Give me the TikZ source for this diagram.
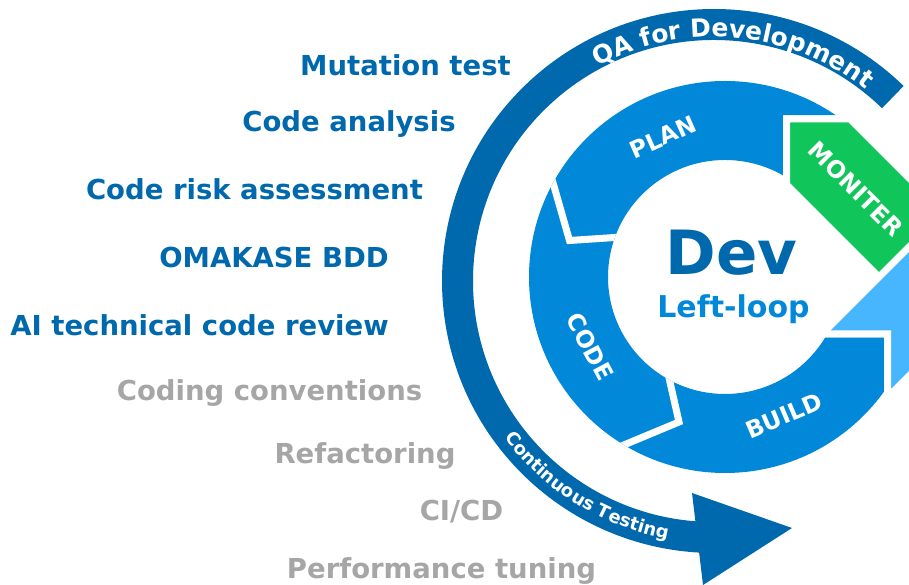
\documentclass[tikz,border=0pt]{standalone}
\usepackage{fontspec}
\setmainfont{DejaVu Sans}
\usetikzlibrary{calc,decorations.text}
\definecolor{qablue}{RGB}{0,104,172}
\definecolor{ringblue}{RGB}{2,136,216}
\definecolor{monigreen}{RGB}{16,198,90}
\definecolor{skyblue}{RGB}{72,182,255}
\definecolor{greytxt}{RGB}{166,166,166}
\begin{document}
\begin{tikzpicture}[x=1pt,y=1pt,
  lefttxt/.style={font=\bfseries\fontsize{27.5}{30}\selectfont, anchor=base, inner sep=0pt},
  bluetxt/.style={lefttxt, text=qablue},
  greytext/.style={lefttxt, text=greytxt},
  ringtxt/.style={font=\bfseries\fontsize{23.5}{26}\selectfont, text=white, inner sep=0pt},
  gapline/.style={white, line width=7pt, line join=miter},
]
\useasboundingbox (0,0) rectangle (909,585);
\clip (0,0) rectangle (909,585);
\coordinate (C) at (725,308);
\coordinate (D) at (714,304);

% ---- inner ring (PLAN / CODE / BUILD)
\begin{scope}[even odd rule]
  \clip (C) circle[radius=196] (C) circle[radius=117];
  \begin{scope}[nonzero rule]
    \clip (887.5,0) -- (887.5,251) -- (800,251) -- (786.5,380) -- (786.5,466)
       -- (1000,466) -- (1000,600) -- (400,600) -- (400,0) -- cycle;
    \fill[ringblue] (C) circle[radius=200];
  \end{scope}
  \draw[gapline] (887.5,0) -- (887.5,251) -- (800,251) -- (786.5,380) -- (786.5,466) -- (1000,466);
  \coordinate (J1o) at (552.5,404);
  \coordinate (J1t) at (569.5,344.5);
  \coordinate (J1i) at (614.5,347.5);
  \draw[gapline] ($(J1t)!1.5!(J1o)$) -- (J1t) -- ($(J1t)!2!(J1i)$);
  \coordinate (J2o) at (625,140.5);
  \coordinate (J2t) at (679,163);
  \coordinate (J2i) at (669.5,205);
  \draw[gapline] ($(J2t)!1.5!(J2o)$) -- (J2t) -- ($(J2t)!2!(J2i)$);
\end{scope}

% ---- outer band: QA for Development / Continuous Testing
\fill[qablue] ($(D)+(45.8:272)$) arc[start angle=45.8, end angle=267, radius=272]
   -- ($(D)+(267:241)$) arc[start angle=267, end angle=45.8, radius=241] -- cycle;
\fill[qablue] (692,92) -- (792,57) -- (703,0) -- cycle;

\path[decorate, decoration={text along path, text align=center,
  text={|\bfseries\fontsize{25}{26}\selectfont\color{white}|QA for Development}}]
  ($(D)+(125.05:244)$) arc[start angle=125.05, end angle=45.05, radius=244];
\path[decorate, decoration={text along path, text align=center,
  text={|\bfseries\fontsize{18}{20}\selectfont\color{white}|Continuous Testing}}]
  ($(D)+(208.25:262)$) arc[start angle=208.25, end angle=268.25, radius=262];

% ---- crossing bands
\filldraw[fill=monigreen, draw=white, line width=7pt, line join=miter]
  (786.5,466) -- (850,466) -- (1050,266) -- (986.5,200.5) -- (786.5,400.5) -- cycle;
\filldraw[fill=skyblue, draw=white, line width=7pt, line join=miter]
  (887.5,251) -- (822,251) -- (1022,451) -- (1087.5,387.5) -- (887.5,187.5) -- cycle;

% ---- ring labels
\node[ringtxt, rotate=24] (plan) at (663,448) {PLAN};
\node[ringtxt, rotate=-62] (code) at (590,238) {CODE};
\node[ringtxt, rotate=23] (build) at (784,169) {BUILD};
\node[ringtxt, rotate=-45] (moniter) at (856,396) {MONITER};

% ---- centre
\node[font=\bfseries\fontsize{61}{61}\selectfont, text=qablue, anchor=base, inner sep=0pt] (dev) at (731.5,310) {Dev};
\node[font=\bfseries\fontsize{30}{30}\selectfont, text=ringblue, anchor=base, inner sep=0pt] (loop) at (733.5,267) {Left-loop};

% ---- left list
\node[bluetxt] (t1) at (405.5,509) {Mutation test};
\node[bluetxt] (t2) at (349,453) {Code analysis};
\node[bluetxt] (t3) at (254.5,385) {Code risk assessment};
\node[bluetxt] (t4) at (274,317) {OMAKASE BDD};
\node[bluetxt] (t5) at (199.5,249) {AI technical code review};
\node[greytext] (t6) at (269.5,184) {Coding conventions};
\node[greytext] (t7) at (365,121) {Refactoring};
\node[greytext] (t8) at (461.5,64) {CI/CD};
\node[greytext] (t9) at (441.5,6) {Performance tuning};
\end{tikzpicture}
\end{document}
